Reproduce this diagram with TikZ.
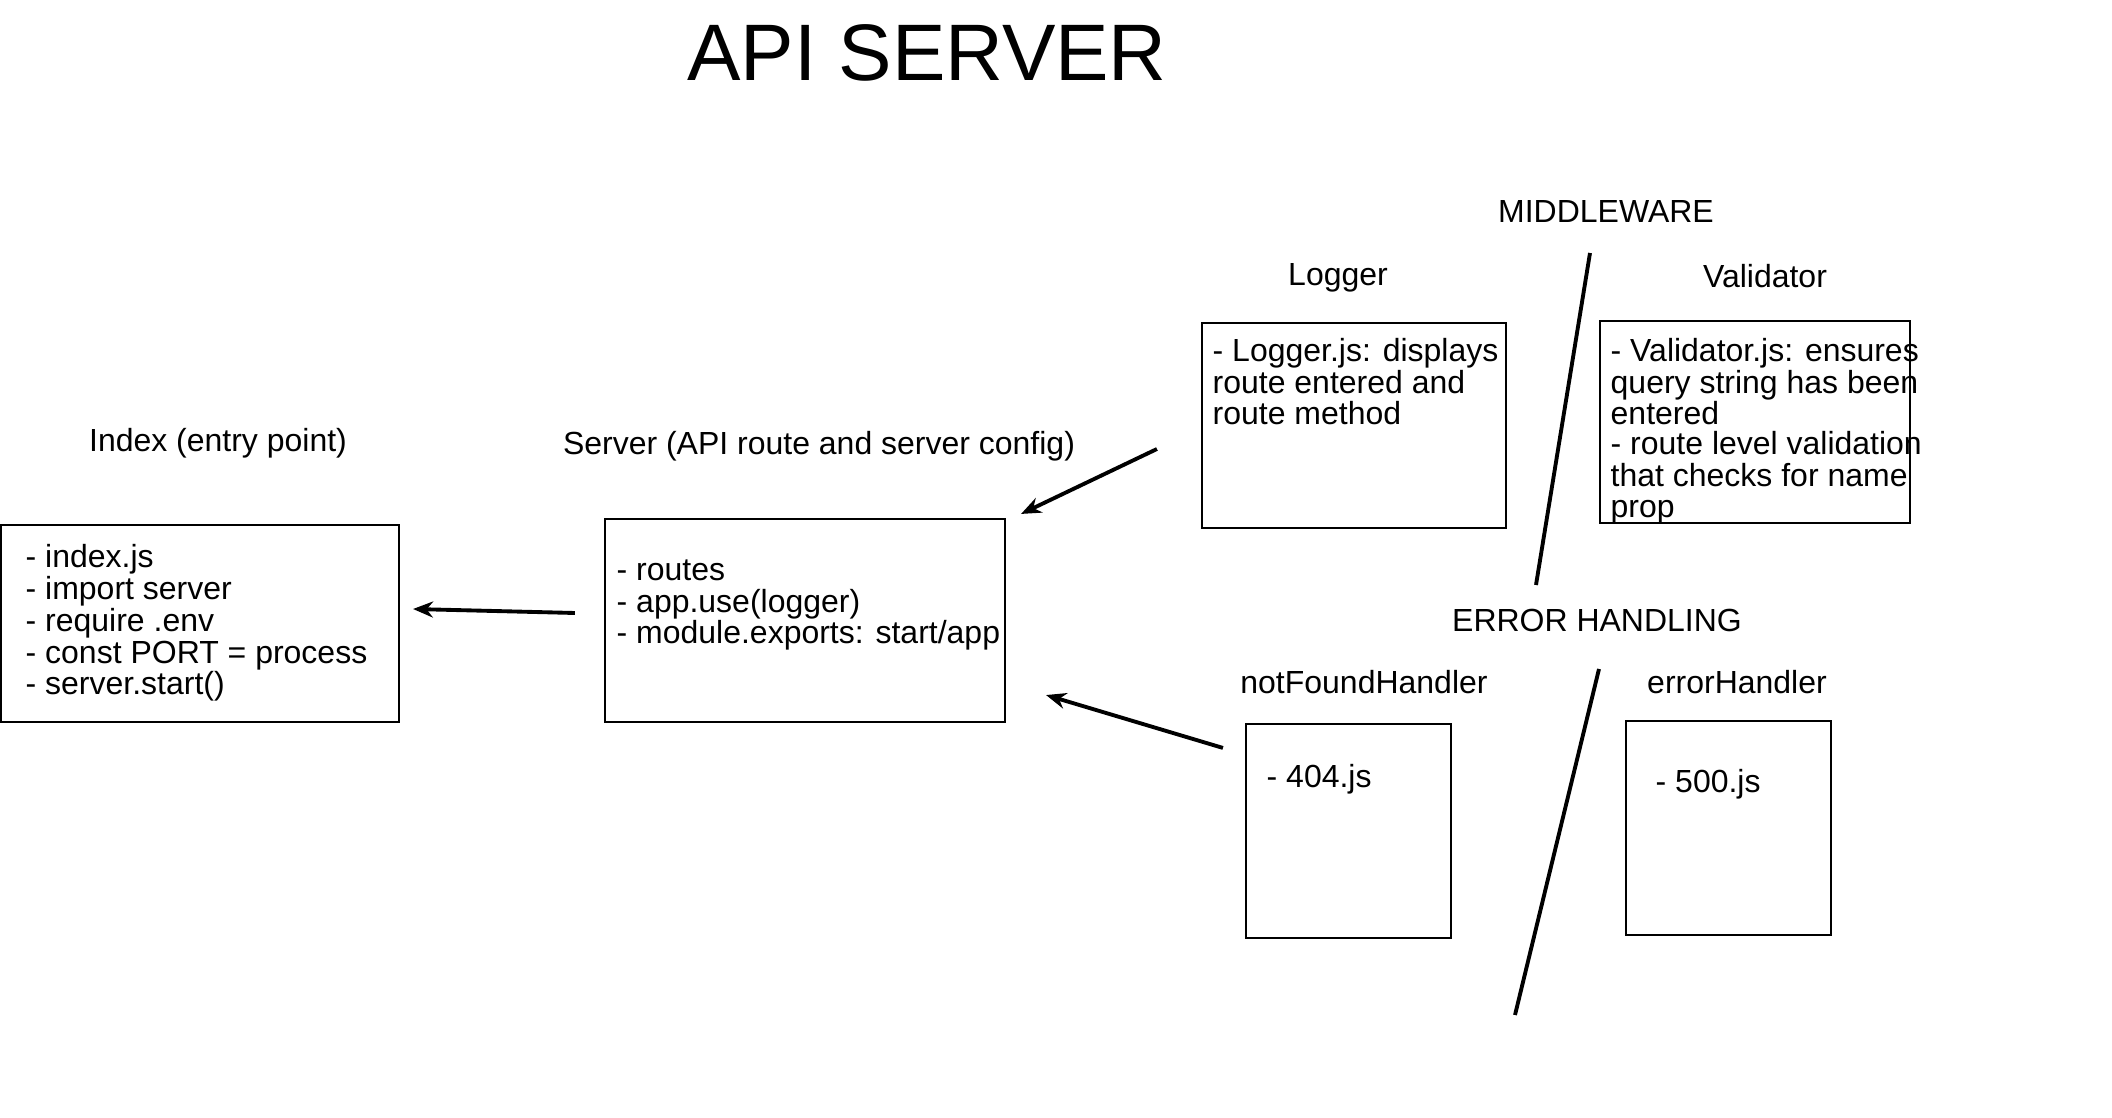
\documentclass[tikz,border=0pt]{standalone}
\usepackage{fontspec}
\setmainfont{Liberation Sans}
\usetikzlibrary{arrows.meta}

\tikzset{
  box/.style={draw, line width=0.6pt, inner sep=0pt},
  % multi-line text: placed at the baseline of its last line
  txt/.style={anchor=base west, align=left, inner sep=0pt, font=\fontsize{9.1pt}{9.1pt}\selectfont},
  head/.style={anchor=base, inner sep=0pt, font=\fontsize{9.1pt}{9.1pt}\selectfont},
  arr/.style={-{Stealth[length=0.2cm,width=0.16cm]}, line width=1.1pt},
  slash/.style={line width=1.1pt}
}

\begin{document}
\begin{tikzpicture}[y=-1cm]
	\useasboundingbox (0,0) rectangle (21.12,11.18);

	% title
	\node[anchor=base, inner sep=0pt, font=\fontsize{22.8pt}{22.8pt}\selectfont] (title) at (9.27,0.81) {API SERVER};

	% Index
	\node[head] (idxhead) at (2.18,4.52) {Index (entry point)};
	\node[box, minimum width=3.98cm, minimum height=1.97cm] (idx) at (2.00,6.235) {};
	\node[txt] (idxtxt) at (0.25,6.95) {- index.js\\- import server\\- require .env\\- const PORT = process\\- server.start()};

	% Server
	\node[head] (srvhead) at (8.19,4.55) {Server (API route and server config)};
	\node[box, minimum width=4.00cm, minimum height=2.03cm] (srv) at (8.05,6.205) {};
	\node[txt] (srvtxt) at (6.16,6.44) {- routes\\- app.use(logger)\\- module.exports: start/app};

	% middleware
	\node[head] (mw) at (16.06,2.23) {MIDDLEWARE};
	\node[head] (loghead) at (13.38,2.86) {Logger};
	\node[box, minimum width=3.04cm, minimum height=2.05cm] (log) at (13.54,4.255) {};
	\node[txt] (logtxt) at (12.12,4.25) {- Logger.js: displays\\route entered and\\route method};
	\node[head] (valhead) at (17.65,2.88) {Validator};
	\node[box, minimum width=3.10cm, minimum height=2.02cm] (val) at (17.55,4.22) {};
	\node[txt] (valtxt) at (16.10,4.25) {- Validator.js: ensures\\query string has been\\entered};
	\node[txt] (valtxt2) at (16.10,5.18) {- route level validation\\that checks for name\\prop};
	\draw[slash] (15.90,2.53) -- (15.36,5.85);

	% error handling
	\node[head] (eh) at (15.97,6.32) {ERROR HANDLING};
	\node[head] (nfhead) at (13.64,6.94) {notFoundHandler};
	\node[box, minimum width=2.05cm, minimum height=2.14cm] (nf) at (13.485,8.31) {};
	\node[txt] (nftxt) at (12.66,7.88) {- 404.js};
	\node[head] (errhead) at (17.37,6.94) {errorHandler};
	\node[box, minimum width=2.05cm, minimum height=2.14cm] (err) at (17.285,8.28) {};
	\node[txt] (errtxt) at (16.55,7.93) {- 500.js};
	\draw[slash] (15.99,6.69) -- (15.15,10.15);

	% arrows
	\coordinate (srvout) at ([shift={(-0.29,-0.075)}]srv.west);
	\coordinate (idxin) at ([shift={(0.13,-0.145)}]idx.east);
	\draw[arr] (srvout) -- (idxin);

	\coordinate (logout) at ([shift={(-0.44,0.235)}]log.west);
	\coordinate (srvin) at ([shift={(0.15,-0.04)}]srv.north east);
	\draw[arr] (logout) -- (srvin);

	\coordinate (nfout) at ([shift={(-0.22,0.25)}]nf.north west);
	\coordinate (srvin2) at ([shift={(0.40,-0.28)}]srv.south east);
	\draw[arr] (nfout) -- (srvin2);

\end{tikzpicture}
\end{document}
